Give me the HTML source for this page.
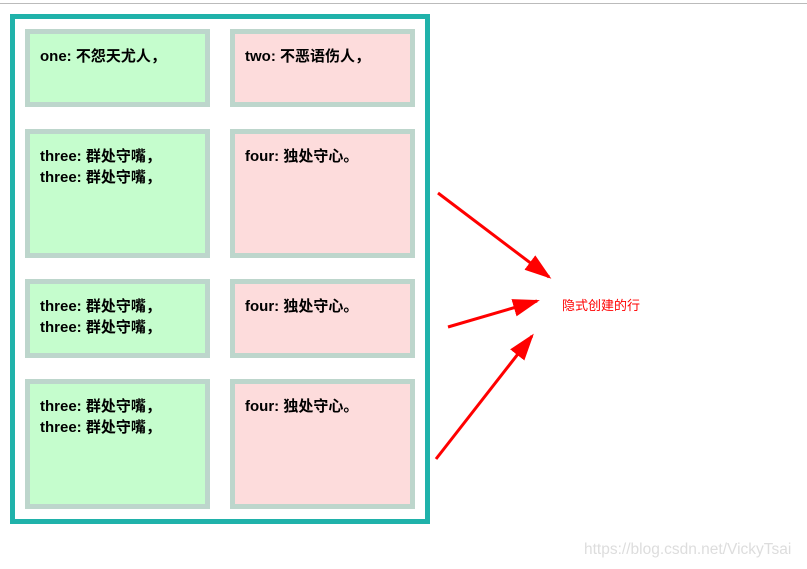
<!DOCTYPE html>
<html><head><meta charset="utf-8"><style>
body{margin:0;width:807px;height:569px;background:#fff;position:relative;overflow:hidden;font-family:"Liberation Sans","Noto Sans CJK SC",sans-serif;}
.topline{position:absolute;left:0;top:3px;width:807px;height:1px;background:#bbb;}
.wrap{position:absolute;left:10px;top:14px;width:410px;height:500px;border:5px solid #20b2aa;}
.c{position:absolute;box-sizing:border-box;border:5px solid #bdd6cc;padding:12px 10px;font-weight:bold;font-size:15px;line-height:21px;color:#000;}
.g{background:#c5fdcd;left:25px;width:185px;}
.p{background:#fddcdc;left:230px;width:185px;}
.wm{position:absolute;left:584px;top:541px;font-size:15.5px;color:#ddd;}
</style></head><body>
<div class="topline"></div>
<div class="wrap"></div>
<div class="c g" style="top:29px;height:78px">one: 不怨天尤人，</div>
<div class="c p" style="top:29px;height:78px">two: 不恶语伤人，</div>
<div class="c g" style="top:129px;height:129px">three: 群处守嘴，<br>three: 群处守嘴，</div>
<div class="c p" style="top:129px;height:129px">four: 独处守心。</div>
<div class="c g" style="top:279px;height:79px">three: 群处守嘴，<br>three: 群处守嘴，</div>
<div class="c p" style="top:279px;height:79px">four: 独处守心。</div>
<div class="c g" style="top:379px;height:130px">three: 群处守嘴，<br>three: 群处守嘴，</div>
<div class="c p" style="top:379px;height:130px">four: 独处守心。</div>
<svg width="807" height="569" style="position:absolute;left:0;top:0">
<defs><marker id="a" markerWidth="9" markerHeight="6" refX="8" refY="3" orient="auto" markerUnits="strokeWidth"><path d="M0,0 L9,3 L0,6 z" fill="red"/></marker></defs>
<g stroke="red" stroke-width="3" fill="none">
<line x1="438" y1="193" x2="549" y2="277" marker-end="url(#a)"/>
<line x1="448" y1="327" x2="537" y2="301" marker-end="url(#a)"/>
<line x1="436" y1="459" x2="532" y2="336" marker-end="url(#a)"/>
</g>
<text x="562" y="310" font-size="13" fill="red" font-family="Liberation Sans,Noto Sans CJK SC,sans-serif">隐式创建的行</text>
</svg>
<div class="wm">https://blog.csdn.net/VickyTsai</div>
</body></html>
